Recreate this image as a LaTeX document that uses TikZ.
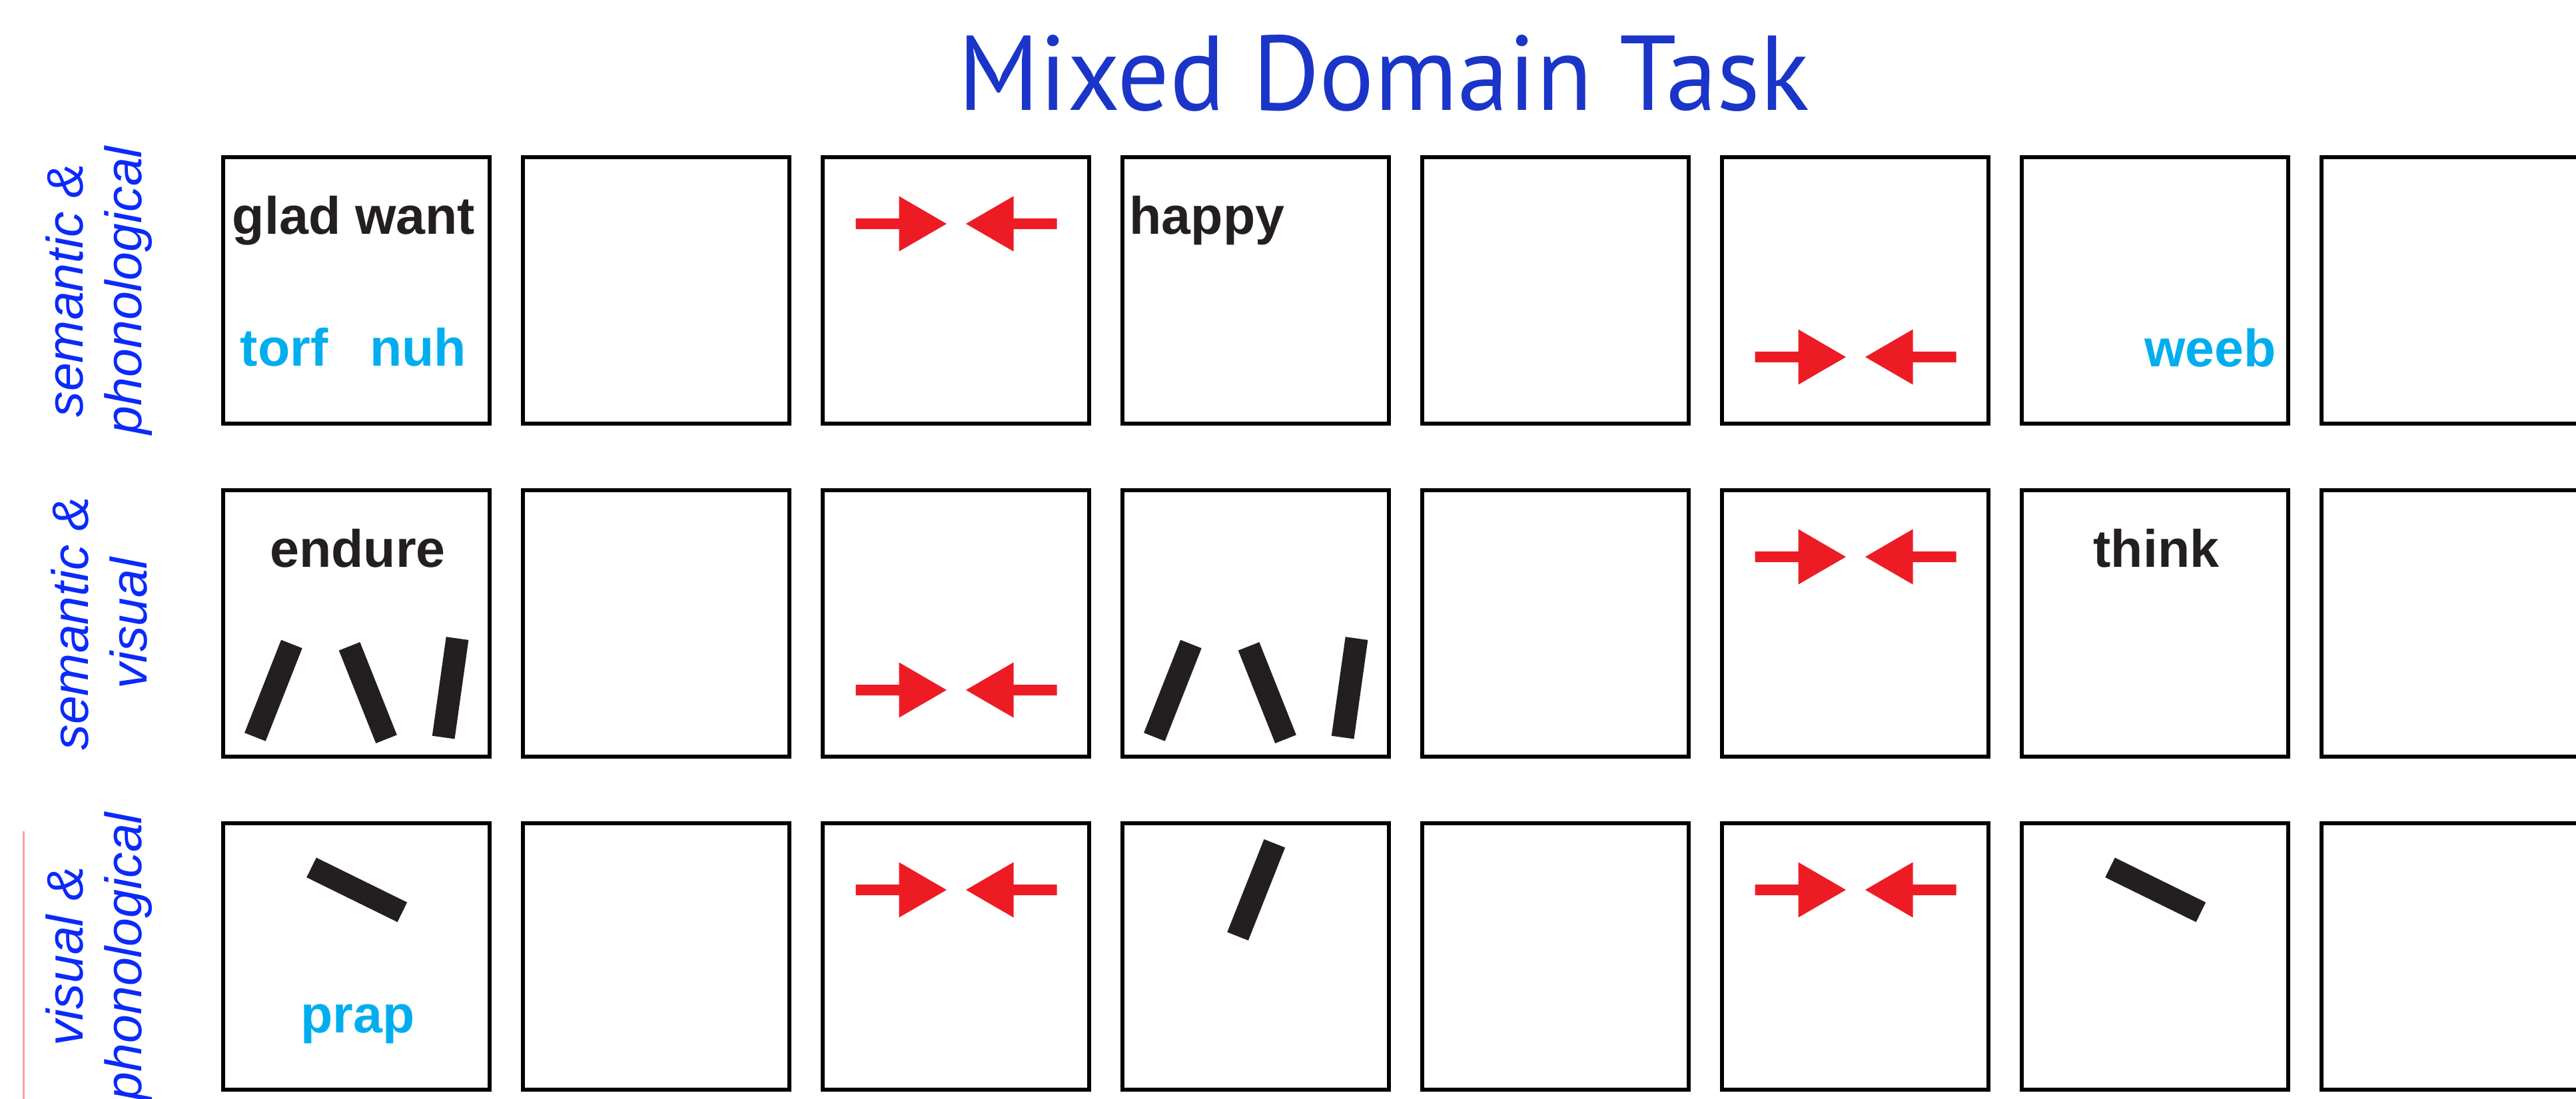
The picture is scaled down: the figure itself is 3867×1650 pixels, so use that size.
\documentclass[tikz,border=0pt]{standalone}
\usepackage{fontspec}
\setmainfont{Liberation Sans}
\newfontfamily\titlefont{PT Sans}
\usepackage{graphicx}
\definecolor{inkblack}{HTML}{231F20}
\definecolor{nonword}{HTML}{00AEEF}
\definecolor{arrowred}{HTML}{ED1C24}
\definecolor{titleblue}{HTML}{1A35C8}
\definecolor{labblue}{HTML}{0A2AFA}
\definecolor{edgepink}{HTML}{FFA0A8}
\tikzset{
  cell/.style={draw=black, line width=1.3pt, minimum width=80pt, minimum height=80pt, inner sep=0pt, outer sep=0pt},
  word/.style={font=\fontsize{15.8pt}{18pt}\selectfont\bfseries, inner sep=0pt, anchor=base},
  realword/.style={word, text=inkblack},
  fakeword/.style={word, text=nonword},
  rowlab/.style={font=\fontsize{15.4pt}{17.6pt}\selectfont\itshape, text=labblue, align=center, inner sep=0pt, rotate=90},
  vstick/.pic={\fill[inkblack] (-17,-75) rectangle (17,75);},
  hstick/.pic={\fill[inkblack] (-76,-16.5) rectangle (76,16.5);},
  arrowpair/.pic={
    \fill[arrowred] (-151,-8) -- (-86,-8) -- (-86,-41.5) -- (-14.5,0) -- (-86,41.5) -- (-86,8) -- (-151,8) -- cycle;
    \fill[arrowred] (151,-8) -- (86,-8) -- (86,-41.5) -- (14.5,0) -- (86,41.5) -- (86,8) -- (151,8) -- cycle;
  }
}
\begin{document}
\begin{tikzpicture}[x=0.2pt,y=-0.2pt]
\useasboundingbox (0,0) rectangle (3867,1650);
\clip (0,0) rectangle (3867,1650);
\fill[white] (0,0) rectangle (3867,1650);

% title
\node[inner sep=0pt, anchor=base, text=titleblue] (title) at (2077.5,166)
  {\resizebox{255.4pt}{22.6pt}{\titlefont Mixed Domain Task}};

% grid of cells
\foreach \r in {0,1,2}{
  \foreach \c in {0,...,7}{
    \node[cell] (b-\r-\c) at ({535+450*\c},{436+500*\r}) {};
  }
}

% row labels
\node[rowlab] (lab0) at (149,436) {semantic \&\\phonological};
\node[rowlab] (lab1) at (149,936) {semantic \&\\visual};
\node[rowlab] (lab2) at (149,1436) {visual \&\\phonological};
\draw[edgepink, line width=0.6pt] (35,1248) -- (35,1650);

% row 1
\node[realword] (w-glad) at (531,352) {glad want};
\node[fakeword] (w-torf) at (426.5,550) {torf};
\node[fakeword] (w-nuh) at (627.5,550) {nuh};
\pic at (1435.5,336) {arrowpair};
\node[realword] (w-happy) at (1812,352) {happy};
\pic at (2785.5,536) {arrowpair};
\node[fakeword] (w-weeb) at (3318,551) {weeb};

% row 2
\node[realword] (w-endure) at (537,852) {endure};
\pic[rotate=-21.5] at (410.4,1036.7) {vstick};
\pic[rotate=21.7] at (552.3,1040) {vstick};
\pic[rotate=-8] at (676.1,1032.8) {vstick};
\pic at (1435.5,1036) {arrowpair};
\pic[rotate=-21.5] at (1760.4,1036.7) {vstick};
\pic[rotate=21.7] at (1902.3,1040) {vstick};
\pic[rotate=-8] at (2026.1,1032.8) {vstick};
\pic at (2785.5,836) {arrowpair};
\node[realword] (w-think) at (3237,852) {think};

% row 3
\pic[rotate=-26.2] at (535.7,1336) {hstick};
\node[fakeword] (w-prap) at (537,1550) {prap};
\pic at (1435.5,1336) {arrowpair};
\pic[rotate=-21.6] at (1885.7,1336) {vstick};
\pic at (2785.5,1336) {arrowpair};
\pic[rotate=-26.2] at (3235.7,1336) {hstick};
\end{tikzpicture}
\end{document}
